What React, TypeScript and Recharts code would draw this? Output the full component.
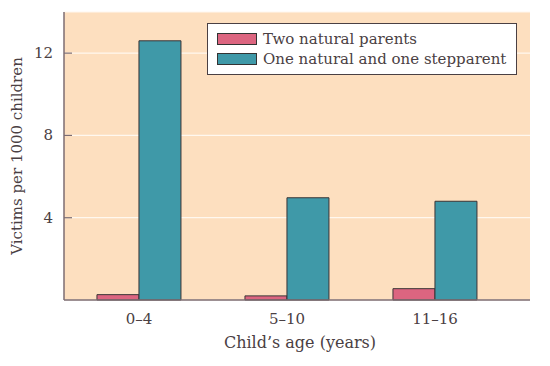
import React from 'react';
import { BarChart, Bar, XAxis, YAxis, CartesianGrid, Label } from 'recharts';

const ageGroups = ['0–4', '5–10', '11–16'];
const twoNatural = [0.26, 0.2, 0.55];
const oneStep = [12.6, 4.97, 4.8];
const yTicks = [4, 8, 12];

const series = [
  { key: 'two', label: 'Two natural parents', color: '#dc6580' },
  { key: 'step', label: 'One natural and one stepparent', color: '#3f99a8' },
];

const data = ageGroups.map((age, i) => ({ age, two: twoNatural[i], step: oneStep[i] }));

const font = '"DejaVu Serif", "Liberation Serif", serif';
const ink = '#4a4043';
const axisColor = '#7c6c72';

function YTick(props: any) {
  const { x, y, payload } = props;
  return (
    <g>
      <line x1={x + 11} x2={x + 19} y1={y} y2={y} stroke={axisColor} strokeWidth={1.2} />
      <text x={x} y={y} dy={5} textAnchor="end" fill={ink} fontSize={15} fontFamily={font}>
        {payload.value}
      </text>
    </g>
  );
}

// legend drawn as an overlay so it doesn't eat into the plot area
function LegendBox() {
  return (
    <div
      style={{
        position: 'absolute',
        left: 207,
        top: 23,
        background: '#fff',
        border: `1.5px solid ${ink}`,
        padding: '5px 10px 5px 9px',
        fontFamily: font,
        fontSize: 15,
        color: ink,
        lineHeight: '20px',
      }}
    >
      {series.map(s => (
        <div key={s.key} style={{ display: 'flex', alignItems: 'center' }}>
          <span
            style={{
              display: 'inline-block',
              width: 38,
              height: 10,
              background: s.color,
              border: '1px solid #333',
              marginRight: 6,
            }}
          />
          {s.label}
        </div>
      ))}
    </div>
  );
}

export default function App() {
  return (
    <div style={{ position: 'absolute', left: 0, top: 0, width: 550, height: 366, background: '#fff' }}>
      <BarChart
        width={550}
        height={366}
        data={data}
        margin={{ top: 12, right: 20, left: 0, bottom: 0 }}
        barCategoryGap="21.6%"
        barGap={0}
      >
        <CartesianGrid vertical={false} stroke="#fff8ef" strokeWidth={1.2} fill="#fddfbf" fillOpacity={1} />
        <XAxis
          dataKey="age"
          height={66}
          padding={{ left: 1, right: 21 }}
          stroke={axisColor}
          strokeWidth={1.5}
          tickLine={false}
          tickMargin={7}
          tick={{ fill: ink, fontSize: 15, fontFamily: font }}
        >
          <Label value="Child’s age (years)" position="insideBottom" offset={18} dx={3} fill={ink} fontSize={16} fontFamily={font} />
        </XAxis>
        <YAxis
          width={64}
          domain={[0, 14]}
          ticks={yTicks}
          stroke={axisColor}
          strokeWidth={1.5}
          tickLine={false}
          tickSize={0}
          tickMargin={11}
          tick={<YTick />}
        >
          <Label
            value="Victims per 1000 children"
            angle={-90}
            position="insideLeft"
            offset={17}
            style={{ textAnchor: 'middle' }}
            fill={ink}
            fontSize={15}
            fontFamily={font}
          />
        </YAxis>
        {series.map(s => (
          <Bar key={s.key} dataKey={s.key} name={s.label} fill={s.color} stroke="#3a3436" strokeWidth={1} isAnimationActive={false} />
        ))}
      </BarChart>
      <LegendBox />
    </div>
  );
}
